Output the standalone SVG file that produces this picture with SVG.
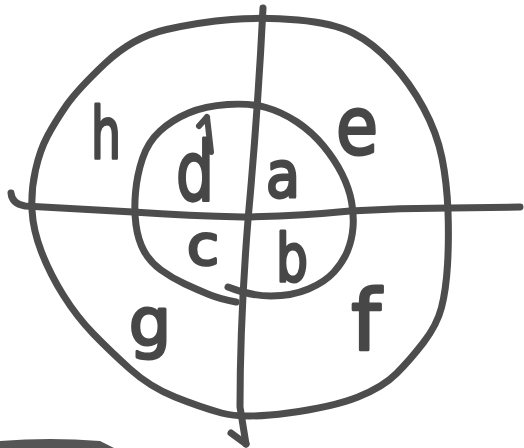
<svg xmlns="http://www.w3.org/2000/svg" width="524" height="448" viewBox="0 0 524 448">
<style>
.pen{fill:none;stroke:#4d4d4d;stroke-width:7;stroke-linecap:round;stroke-linejoin:round}
.lt{font-family:"DejaVu Sans",sans-serif;fill:#474747;stroke:#474747;stroke-width:3;stroke-linejoin:round;text-anchor:middle}
</style>
<rect width="524" height="448" fill="#ffffff"/>
<g id="outer-circle">
<path class="pen" d="M231.5,19.5 Q263,17 298,20 Q333,23 353,33 Q373,43 391.5,63 Q410,83 423.5,108 Q437,133 442,158 Q447,183 448,211.5 Q449,240 447.5,265 Q446,290 441.5,307.5 Q437,325 423.5,342.5 Q410,360 396.5,373.5 Q383,387 358,397 Q333,407 288,413 Q243,419 221.5,413 Q200,407 175,397 Q150,387 130,369 Q110,351 93.5,334 Q77,317 63.5,295.5 Q50,274 41.5,252 Q33,230 32,210 Q31,190 35.5,170 Q40,150 47.5,136 Q55,122 66,106 Q77,90 105,63.5 Q133,37 166.5,29.5 Q200,22 231.5,19.5 Z"/>
</g>
<g id="inner-circle">
<path class="pen" d="M228,287 Q250,296 271,296 Q292,296 308.5,289 Q325,282 334,272 Q343,262 347.5,251 Q352,240 353,227.5 Q354,215 351.5,201.5 Q349,188 342,174 Q335,160 323.5,146 Q312,132 297,122 Q282,112 266,107.5 Q250,103 227.5,104.5 Q205,106 188.5,113 Q172,120 160,131 Q148,142 142.5,158.5 Q137,175 135.5,192.5 Q134,210 136,225 Q138,240 144,251 Q150,262 161,270 Q172,278 185,284 Q198,290 209,294.5 Q220,299 236,302"/>
</g>
<g id="axes">
<path class="pen" d="M11,193 Q12,204 25,206 Q80,209 133,212 Q190,216 243,217 Q300,216 350,211 Q400,208 450,208 L520,207"/>
<path class="pen" d="M263,8 Q258,110 248,220 Q240,320 240,407 Q243,425 246,444"/>
<path class="pen" d="M231,433 L246,444"/>
</g>
<g id="labels">
<text class="lt" x="106" y="158" font-size="72" textLength="30" lengthAdjust="spacingAndGlyphs">h</text>
<path class="pen" d="M211,152 L207,117 M199,126 L207,117" style="stroke-width:6"/>
<text class="lt" x="195" y="200" font-size="82" textLength="38" lengthAdjust="spacingAndGlyphs">d</text>
<text class="lt" x="283" y="197" font-size="64" textLength="34" lengthAdjust="spacingAndGlyphs">a</text>
<text class="lt" x="357" y="154" font-size="80" textLength="42" lengthAdjust="spacingAndGlyphs">e</text>
<text class="lt" x="203" y="264" font-size="55" textLength="32" lengthAdjust="spacingAndGlyphs">c</text>
<text class="lt" x="292" y="281" font-size="66" textLength="32" lengthAdjust="spacingAndGlyphs">b</text>
<text class="lt" x="150" y="345" font-size="66" textLength="42" lengthAdjust="spacingAndGlyphs">g</text>
<text class="lt" x="366" y="350" font-size="84">f</text>
</g>
<g id="paper-edge">
<path d="M0,441 Q50,437 100,441 L114,448 L0,448 Z" fill="#555555"/>
</g>
</svg>
